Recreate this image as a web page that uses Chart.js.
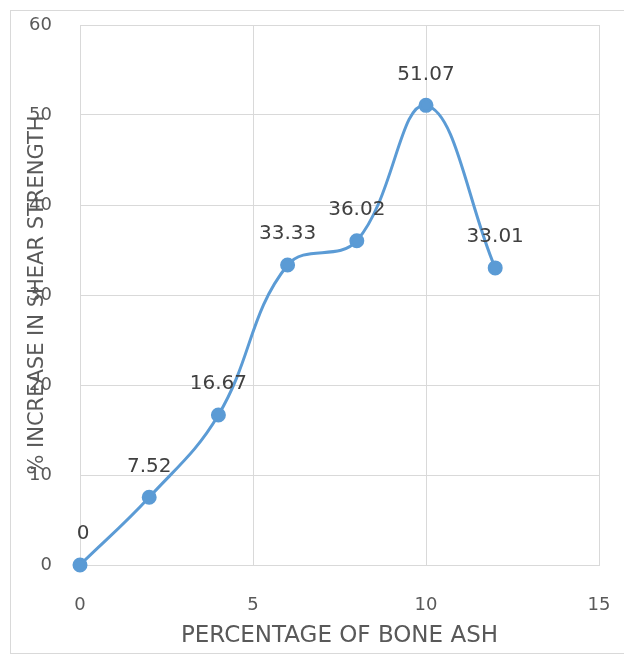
<!DOCTYPE html>
<html>
<head>
<meta charset="utf-8">
<script src="https://cdn.jsdelivr.net/npm/chart.js@4.4.1/dist/chart.umd.min.js"></script>
<style>
  html, body { margin: 0; padding: 0; background: #ffffff; overflow: hidden; }
  #wrap { width: 624px; height: 656px; position: relative; }
  canvas { display: block; }
</style>
</head>
<body>
<div id="wrap"><canvas id="c" width="624" height="656"></canvas></div>
<script>
// Bone ash content (%) against increase in shear strength (%)
const boneAshPercent = [0, 2, 4, 6, 8, 10, 12];
const shearIncrease = [0, 7.52, 16.67, 33.33, 36.02, 51.07, 33.01];
const xTicks = [0, 5, 10, 15];
const yTicks = [0, 10, 20, 30, 40, 50, 60];

const FONT = '"DejaVu Sans", sans-serif';
const TEXT = '#595959';
const GRID = '#d9d9d9';
const BLUE = '#5B9BD5';

// outer frame of the chart object
const framePlugin = {
  id: 'frame',
  beforeDraw(chart) {
    const ctx = chart.ctx;
    ctx.save();
    ctx.strokeStyle = GRID;
    ctx.lineWidth = 1;
    ctx.strokeRect(10.5, 10.5, 640, 643);
    ctx.restore();
  }
};

// value labels above each point
const valueLabels = {
  id: 'valueLabels',
  afterDatasetsDraw(chart) {
    const ctx = chart.ctx;
    const meta = chart.getDatasetMeta(0);
    const data = chart.data.datasets[0].data;
    ctx.save();
    ctx.font = '20px ' + FONT;
    ctx.fillStyle = '#404040';
    ctx.textAlign = 'center';
    ctx.textBaseline = 'middle';
    meta.data.forEach((pt, i) => {
      ctx.fillText(String(data[i].y), pt.x + (i === 0 ? 3 : 0), pt.y - 31);
    });
    ctx.restore();
  }
};

// vertical axis title, sitting over the tick labels
const yTitle = {
  id: 'yTitle',
  afterDraw(chart) {
    const ctx = chart.ctx;
    const a = chart.chartArea;
    ctx.save();
    ctx.translate(38, (a.top + a.bottom) / 2);
    ctx.rotate(-Math.PI / 2);
    ctx.font = '21px ' + FONT;
    ctx.fillStyle = TEXT;
    ctx.textAlign = 'center';
    ctx.textBaseline = 'middle';
    ctx.fillText('% INCREASE IN SHEAR STRENGTH', 0, 0);
    ctx.restore();
  }
};

// keep the plot area fixed: no extra room reserved for edge labels
function noEdgePadding(scale) {
  scale.paddingTop = 0;
  scale.paddingBottom = 0;
  scale.paddingLeft = 0;
  scale.paddingRight = 0;
}

new Chart(document.getElementById('c'), {
  type: 'scatter',
  data: {
    datasets: [{
      data: boneAshPercent.map((x, i) => ({ x: x, y: shearIncrease[i] })),
      showLine: true,
      borderColor: BLUE,
      backgroundColor: BLUE,
      borderWidth: 3,
      pointRadius: 6,
      pointHoverRadius: 6,
      pointBackgroundColor: BLUE,
      pointBorderColor: BLUE,
      tension: 0.4,
      clip: false
    }]
  },
  options: {
    responsive: false,
    animation: false,
    events: [],
    layout: { padding: { top: 25, right: 25, left: 0, bottom: 0 } },
    plugins: {
      legend: { display: false },
      tooltip: { enabled: false },
      title: { display: false }
    },
    scales: {
      x: {
        type: 'linear',
        min: 0, max: 15,
        afterBuildTicks(scale) { scale.ticks = xTicks.map(v => ({ value: v })); },
        afterFit(scale) { scale.height = 91; noEdgePadding(scale); },
        grid: { color: GRID, lineWidth: 1, drawTicks: false },
        border: { color: GRID, width: 1 },
        ticks: { color: TEXT, font: { family: FONT, size: 18 }, padding: 30 },
        title: {
          display: true,
          text: 'PERCENTAGE OF BONE ASH',
          color: TEXT,
          font: { family: FONT, size: 23 },
          padding: { top: 0, bottom: 6 }
        }
      },
      y: {
        type: 'linear',
        min: 0, max: 60,
        afterBuildTicks(scale) { scale.ticks = yTicks.map(v => ({ value: v })); },
        afterFit(scale) { scale.width = 80; noEdgePadding(scale); },
        grid: { color: GRID, lineWidth: 1, drawTicks: false },
        border: { color: GRID, width: 1 },
        ticks: { color: TEXT, font: { family: FONT, size: 18 }, padding: 28 }
      }
    }
  },
  plugins: [framePlugin, valueLabels, yTitle]
});
</script>
</body>
</html>
